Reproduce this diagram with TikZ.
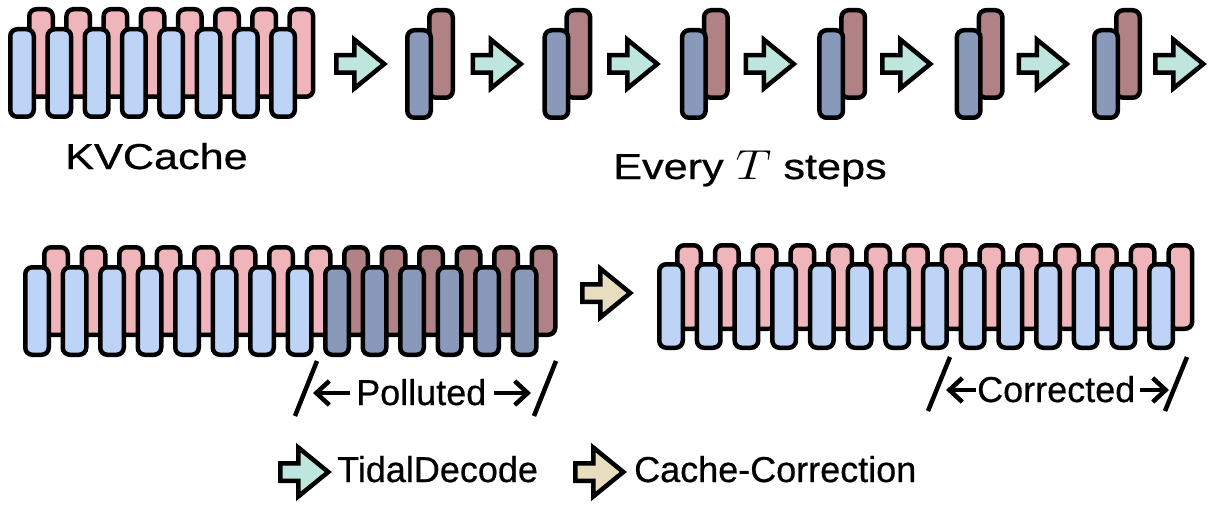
\RequirePackage{fix-cm}
\documentclass[tikz,border=0pt]{standalone}
\usepackage{fontspec}
\setmainfont{Liberation Sans}[FakeBold=0.6]
\usetikzlibrary{arrows.meta}
\definecolor{lblue}{RGB}{190,212,247}
\definecolor{lpink}{RGB}{240,181,186}
\definecolor{dblue}{RGB}{137,153,186}
\definecolor{mauve}{RGB}{176,130,133}
\definecolor{tdteal}{RGB}{190,230,222}
\definecolor{ccbeige}{RGB}{231,221,191}
\tikzset{
  cell/.style={draw=black, line width=4.5pt, rounded corners=7pt, inner sep=0pt, outer sep=0pt,
    minimum width=23.5pt, minimum height=87.5pt, anchor=north west},
  shortcell/.style={cell, minimum height=83.5pt},
  blockarrow/.pic={\draw[line width=4.5pt, line join=miter, fill=#1]
    (0,-8.75) -- (18,-8.75) -- (18,-24.5) -- (48,0) -- (18,24.5) -- (18,8.75) -- (0,8.75) -- cycle;},
  lbl/.style={anchor=base west, inner sep=0pt, font=\fontsize{36}{40}\selectfont},
  toplbl/.style={lbl, xscale=1.2},
  slash/.style={line width=4.5pt},
  dimarr/.style={line width=4.5pt, -{Straight Barb[length=13pt,width=24pt]}},
}
\begin{document}
\begin{tikzpicture}[x=1pt, y=-1pt]
\useasboundingbox (0,0) rectangle (1215,508);
% ---- top KV cache
\foreach \i in {0,...,7} {\node[cell, fill=lpink] (kvp\i) at ({29.25+37.2*\i}, 9.25) {};}
\foreach \i in {0,...,7} {\node[cell, fill=lblue] (kvb\i) at ({10.25+37.3*\i}, 29.25) {};}
\node[toplbl] (kvlbl) at (65,169) {KVCache};
% ---- top pairs and arrows
\foreach \j in {0,...,6} {\pic at ({336.25+136.5*\j}, 64) {blockarrow=tdteal};}
\foreach \j in {0,...,5} {
  \node[cell, fill=mauve] (pm\j) at ({429.25+137.4*\j}, 10.25) {};
  \node[cell, fill=dblue] (pb\j) at ({407.25+137.4*\j}, 30.25) {};
}
\node[toplbl] (every) at (613,179) {Every {\fontsize{42}{46}\selectfont$T$} steps};
% ---- bottom-left polluted cache
\foreach \i in {0,...,7} {\node[cell, fill=lpink] (lp\i) at ({44.25+37.5*\i}, 247.25) {};}
\foreach \i in {8,...,13} {\node[cell, fill=mauve] (lp\i) at ({44.25+37.5*\i}, 247.25) {};}
\foreach \i in {0,...,7} {\node[cell, fill=lblue] (lb\i) at ({25.25+37.5*\i}, 267.25) {};}
\foreach \i in {8,...,13} {\node[cell, fill=dblue] (lb\i) at ({25.25+37.5*\i}, 267.25) {};}
% ---- cache correction arrow
\pic at (582.25, 293) {blockarrow=ccbeige};
% ---- bottom-right corrected cache
\foreach \i in {0,...,13} {\node[shortcell, fill=lpink] (rp\i) at ({677.25+37.8*\i}, 245.25) {};}
\foreach \i in {0,...,13} {\node[shortcell, fill=lblue] (rb\i) at ({659.25+37.7*\i}, 264.25) {};}
% ---- Polluted marker
\coordinate (pa1) at (317,361); \coordinate (pa2) at (295,416);
\coordinate (pb1) at (556,361); \coordinate (pb2) at (534,416);
\draw[slash] (pa1) -- (pa2);
\draw[slash] (pb1) -- (pb2);
\coordinate (pl1) at (313,393); \coordinate (pl2) at (350,393);
\coordinate (pr1) at (494,393); \coordinate (pr2) at (531,393);
\draw[dimarr] (pl2) -- (pl1);
\draw[dimarr] (pr1) -- (pr2);
\node[lbl] (polluted) at (356,405) {Polluted};
% ---- Corrected marker
\coordinate (ca1) at (950,357); \coordinate (ca2) at (928,411);
\coordinate (cb1) at (1187,357); \coordinate (cb2) at (1165,411);
\draw[slash] (ca1) -- (ca2);
\draw[slash] (cb1) -- (cb2);
\coordinate (cl1) at (946,390); \coordinate (cl2) at (976,390);
\coordinate (cr1) at (1140,390); \coordinate (cr2) at (1169,390);
\draw[dimarr] (cl2) -- (cl1);
\draw[dimarr] (cr1) -- (cr2);
\node[lbl] (corrected) at (977,402) {Corrected};
% ---- legend
\pic at (280.25, 472) {blockarrow=tdteal};
\node[lbl] (lgtd) at (337,482) {TidalDecode};
\pic at (575.25, 472) {blockarrow=ccbeige};
\node[lbl] (lgcc) at (634,482) {Cache-Correction};
\end{tikzpicture}
\end{document}
